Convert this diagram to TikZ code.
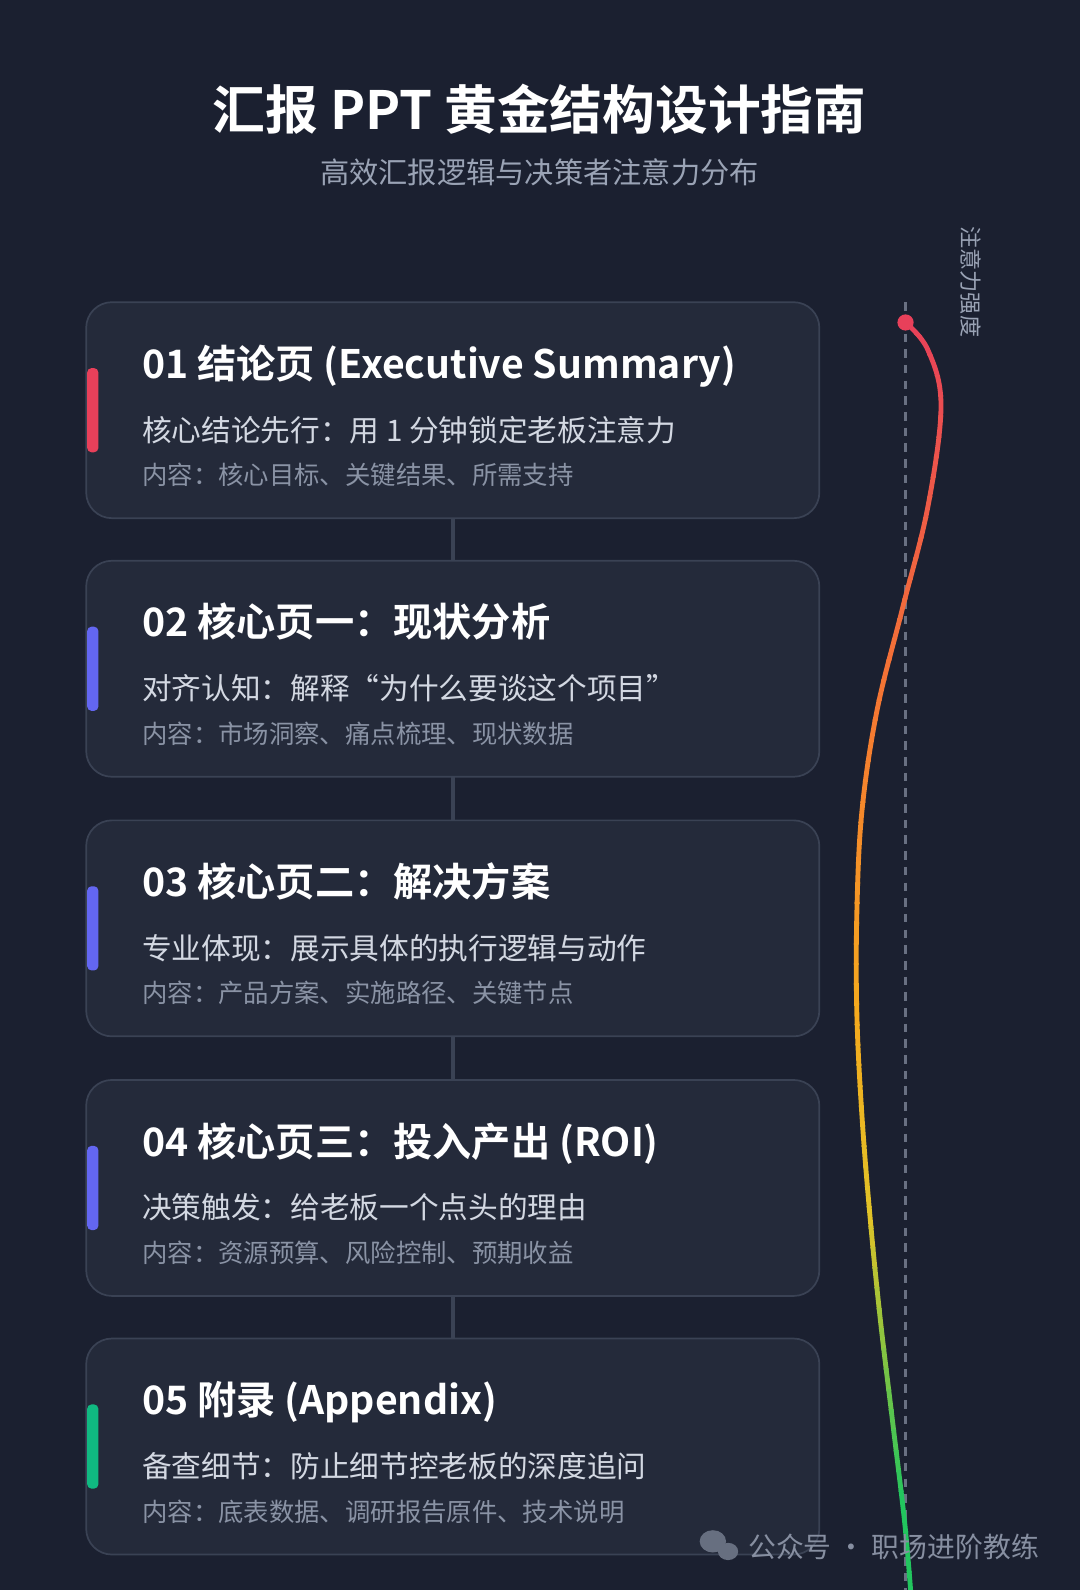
\documentclass[tikz,border=0pt]{standalone}
\usepackage{fontspec}
\setmainfont{Noto Sans CJK SC}
\newfontfamily\hfont{Noto Sans CJK SC Bold}
\definecolor{bg}{HTML}{1B2030}
\definecolor{card}{HTML}{242A3A}
\definecolor{cardline}{HTML}{3A4254}
\definecolor{sub}{HTML}{9AA3B5}
\definecolor{l2}{HTML}{D3D8E2}
\definecolor{l3}{HTML}{8A93A5}
\definecolor{cred}{HTML}{E8405A}
\definecolor{cpur}{HTML}{6366F1}
\definecolor{cgrn}{HTML}{10B981}
\definecolor{c0}{RGB}{232,64,90}
\definecolor{c1}{RGB}{245,120,50}
\definecolor{c2}{RGB}{245,170,30}
\definecolor{c3}{RGB}{225,195,40}
\definecolor{c4}{RGB}{34,197,94}
\tikzset{
 cardbox/.style={draw=cardline,line width=1.2pt,fill=card,rounded corners=18pt},
 head/.style={anchor=base west,text=white,font=\hfont\fontsize{27.5}{30}\selectfont,inner sep=0},
 ltwo/.style={anchor=base west,text=l2,font=\fontsize{20.8}{23}\selectfont,inner sep=0},
 lthree/.style={anchor=base west,text=l3,font=\fontsize{17.8}{20}\selectfont,inner sep=0},
 link/.style={draw=cardline,line width=2.5pt},
}
\begin{document}
\begin{tikzpicture}[x=0.025cm,y=-0.025cm]
\fill[bg] (0,0) rectangle (1065,1568);
\useasboundingbox (0,0) rectangle (1065,1568);
\node[text=white,font=\hfont\fontsize{37}{40}\selectfont] (title) at (532,108) {汇报 PPT 黄金结构设计指南};
\node[text=sub,font=\fontsize{20.5}{24}\selectfont] (subt) at (532,170) {高效汇报逻辑与决策者注意力分布};
% dashed axis
\coordinate (axt) at (893,298);
\coordinate (axb) at (893,1568);
\draw[l3!70!bg,line width=1.5pt,dash pattern=on 6pt off 5pt] (axt) -- (axb);
\node[text=sub,rotate=-90,font=\fontsize{15.5}{18}\selectfont] (axlab) at (957,278) {注意力强度};
% cards
\foreach \i/\t/\c in {1/298/cred,2/553/cpur,3/809/cpur,4/1065/cpur,5/1320/cgrn}{
 \draw[cardbox] (85,\t) rectangle (808,\t+213);
 \coordinate (top\i) at (447,\t);
 \coordinate (bot\i) at (447,\t+213);
 \fill[\c,rounded corners=3pt] (86,\t+65) rectangle (97,\t+148);
}
\foreach \a/\b in {1/2,2/3,3/4,4/5}{\draw[link] (bot\a) -- (top\b);}
\node[head] (h1) at (140,373) {01 结论页 (Executive Summary)};
\node[ltwo] (s1) at (140,435) {核心结论先行：用 1 分钟锁定老板注意力};
\node[lthree] (t1) at (140,478) {内容：核心目标、关键结果、所需支持};
\node[head] (h2) at (140,628) {02 核心页一：现状分析};
\node[ltwo] (s2) at (140,690) {对齐认知：解释“为什么要谈这个项目”};
\node[lthree] (t2) at (140,733) {内容：市场洞察、痛点梳理、现状数据};
\node[head] (h3) at (140,884) {03 核心页二：解决方案};
\node[ltwo] (s3) at (140,946) {专业体现：展示具体的执行逻辑与动作};
\node[lthree] (t3) at (140,989) {内容：产品方案、实施路径、关键节点};
\node[head] (h4) at (140,1140) {04 核心页三：投入产出 (ROI)};
\node[ltwo] (s4) at (140,1202) {决策触发：给老板一个点头的理由};
\node[lthree] (t4) at (140,1245) {内容：资源预算、风险控制、预期收益};
\node[head] (h5) at (140,1395) {05 附录 (Appendix)};
\node[ltwo] (s5) at (140,1457) {备查细节：防止细节控老板的深度追问};
\node[lthree] (t5) at (140,1500) {内容：底表数据、调研报告原件、技术说明};
% attention curve, banded colours
\def\curve{plot[smooth,tension=0.6] coordinates {(893,318) (915,345) (928,400) (915,500) (890,600) (865,700) (850,800) (845,900) (845,1000) (850,1100) (858,1200) (868,1300) (880,1400) (892,1500) (898,1568)}}
\foreach \k in {0,...,62}{
 \pgfmathsetmacro{\ya}{310+\k*20}
 \pgfmathsetmacro{\yb}{\ya+21}
 \pgfmathsetmacro{\yy}{\ya+10}
 \ifdim \yy pt<700pt
   \pgfmathsetmacro{\p}{(\yy-310)/390*100}\colorlet{cc}{c1!\p!c0}
 \else\ifdim \yy pt<1000pt
   \pgfmathsetmacro{\p}{(\yy-700)/300*100}\colorlet{cc}{c2!\p!c1}
 \else\ifdim \yy pt<1200pt
   \pgfmathsetmacro{\p}{(\yy-1000)/200*100}\colorlet{cc}{c3!\p!c2}
 \else
   \pgfmathsetmacro{\p}{min(100,(\yy-1200)/280*100)}\colorlet{cc}{c4!\p!c3}
 \fi\fi\fi
 \begin{scope}
  \clip (800,\ya) rectangle (960,\yb);
  \draw[cc,line width=3.4pt,line cap=round] \curve;
 \end{scope}
}
\fill[c0] (893,318) circle (8);
% watermark
\fill[sub!60!bg] (703,1520) ellipse (13 and 11);
\fill[sub!60!bg] (718,1530) ellipse (10 and 8.5);
\node[text=sub!85!bg,anchor=west,font=\fontsize{19.5}{22}\selectfont] (wm) at (733,1525) {公众号 · 职场进阶教练};
\end{tikzpicture}
\end{document}
